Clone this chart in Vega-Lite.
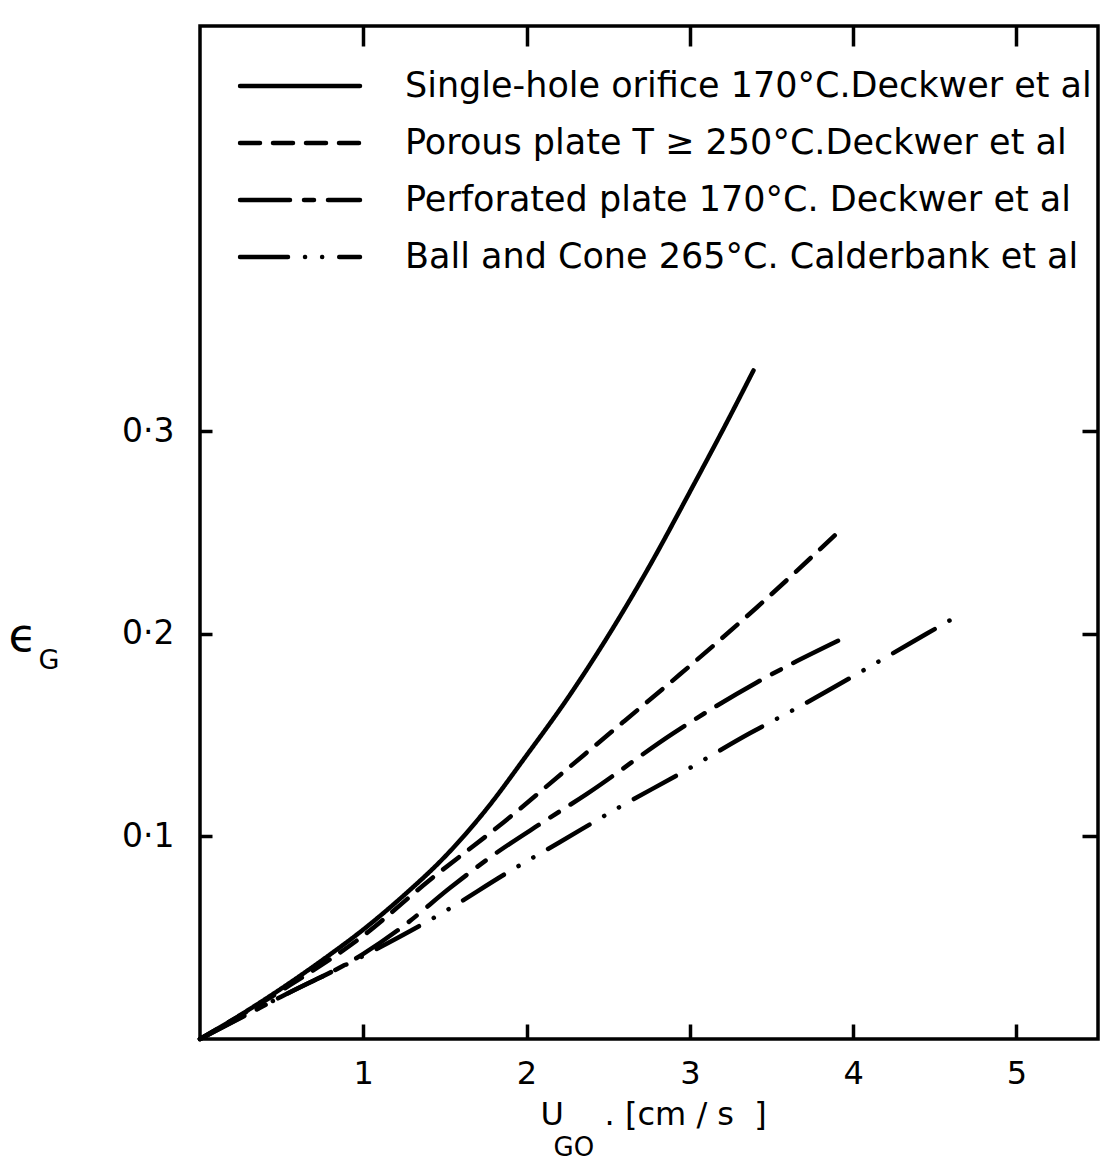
{
  "$schema": "https://vega.github.io/schema/vega-lite/v6.json",
  "width": 898,
  "height": 1013,
  "autosize": {"type": "none"},
  "padding": {"left": 200, "top": 26, "right": 2, "bottom": 121},
  "background": "white",
  "config": {
    "view": {"stroke": "black", "strokeWidth": 3.5},
    "font": "DejaVu Sans",
    "axis": {
      "domain": false,
      "grid": false,
      "tickColor": "black",
      "tickWidth": 3.5,
      "labelColor": "black",
      "titleColor": "black",
      "labelFont": "DejaVu Sans",
      "titleFont": "DejaVu Sans",
      "titleFontWeight": "normal"
    }
  },
  "data": {
    "values": [
      {"series": "Single-hole orifice 170°C.Deckwer et al", "u": 0, "eps": 0},
      {"series": "Single-hole orifice 170°C.Deckwer et al", "u": 0.25, "eps": 0.012},
      {"series": "Single-hole orifice 170°C.Deckwer et al", "u": 0.5, "eps": 0.025},
      {"series": "Single-hole orifice 170°C.Deckwer et al", "u": 0.75, "eps": 0.039},
      {"series": "Single-hole orifice 170°C.Deckwer et al", "u": 1.0, "eps": 0.054},
      {"series": "Single-hole orifice 170°C.Deckwer et al", "u": 1.25, "eps": 0.071},
      {"series": "Single-hole orifice 170°C.Deckwer et al", "u": 1.5, "eps": 0.09},
      {"series": "Single-hole orifice 170°C.Deckwer et al", "u": 1.75, "eps": 0.113},
      {"series": "Single-hole orifice 170°C.Deckwer et al", "u": 2.0, "eps": 0.14},
      {"series": "Single-hole orifice 170°C.Deckwer et al", "u": 2.25, "eps": 0.168},
      {"series": "Single-hole orifice 170°C.Deckwer et al", "u": 2.5, "eps": 0.199},
      {"series": "Single-hole orifice 170°C.Deckwer et al", "u": 2.75, "eps": 0.233},
      {"series": "Single-hole orifice 170°C.Deckwer et al", "u": 3.0, "eps": 0.27},
      {"series": "Single-hole orifice 170°C.Deckwer et al", "u": 3.25, "eps": 0.308},
      {"series": "Single-hole orifice 170°C.Deckwer et al", "u": 3.39, "eps": 0.33},
      {"series": "Porous plate T ≥ 250°C.Deckwer et al", "u": 0, "eps": 0},
      {"series": "Porous plate T ≥ 250°C.Deckwer et al", "u": 0.5, "eps": 0.024},
      {"series": "Porous plate T ≥ 250°C.Deckwer et al", "u": 1.0, "eps": 0.051},
      {"series": "Porous plate T ≥ 250°C.Deckwer et al", "u": 1.4, "eps": 0.078},
      {"series": "Porous plate T ≥ 250°C.Deckwer et al", "u": 1.86, "eps": 0.107},
      {"series": "Porous plate T ≥ 250°C.Deckwer et al", "u": 2.23, "eps": 0.132},
      {"series": "Porous plate T ≥ 250°C.Deckwer et al", "u": 2.6, "eps": 0.157},
      {"series": "Porous plate T ≥ 250°C.Deckwer et al", "u": 2.94, "eps": 0.18},
      {"series": "Porous plate T ≥ 250°C.Deckwer et al", "u": 3.41, "eps": 0.213},
      {"series": "Porous plate T ≥ 250°C.Deckwer et al", "u": 3.92, "eps": 0.251},
      {"series": "Perforated plate 170°C. Deckwer et al", "u": 0, "eps": 0},
      {"series": "Perforated plate 170°C. Deckwer et al", "u": 0.5, "eps": 0.021},
      {"series": "Perforated plate 170°C. Deckwer et al", "u": 1.0, "eps": 0.042},
      {"series": "Perforated plate 170°C. Deckwer et al", "u": 1.25, "eps": 0.056},
      {"series": "Perforated plate 170°C. Deckwer et al", "u": 1.53, "eps": 0.0745},
      {"series": "Perforated plate 170°C. Deckwer et al", "u": 1.8, "eps": 0.091},
      {"series": "Perforated plate 170°C. Deckwer et al", "u": 2.1, "eps": 0.107},
      {"series": "Perforated plate 170°C. Deckwer et al", "u": 2.37, "eps": 0.121},
      {"series": "Perforated plate 170°C. Deckwer et al", "u": 2.9, "eps": 0.151},
      {"series": "Perforated plate 170°C. Deckwer et al", "u": 3.41, "eps": 0.176},
      {"series": "Perforated plate 170°C. Deckwer et al", "u": 3.92, "eps": 0.197},
      {"series": "Ball and Cone  265°C. Calderbank et al", "u": 0, "eps": 0},
      {"series": "Ball and Cone  265°C. Calderbank et al", "u": 0.5, "eps": 0.021},
      {"series": "Ball and Cone  265°C. Calderbank et al", "u": 1.0, "eps": 0.041},
      {"series": "Ball and Cone  265°C. Calderbank et al", "u": 1.5, "eps": 0.063},
      {"series": "Ball and Cone  265°C. Calderbank et al", "u": 1.88, "eps": 0.082},
      {"series": "Ball and Cone  265°C. Calderbank et al", "u": 2.2, "eps": 0.097},
      {"series": "Ball and Cone  265°C. Calderbank et al", "u": 2.57, "eps": 0.1145},
      {"series": "Ball and Cone  265°C. Calderbank et al", "u": 2.94, "eps": 0.131},
      {"series": "Ball and Cone  265°C. Calderbank et al", "u": 3.37, "eps": 0.151},
      {"series": "Ball and Cone  265°C. Calderbank et al", "u": 3.67, "eps": 0.164},
      {"series": "Ball and Cone  265°C. Calderbank et al", "u": 4.15, "eps": 0.186},
      {"series": "Ball and Cone  265°C. Calderbank et al", "u": 4.45, "eps": 0.2},
      {"series": "Ball and Cone  265°C. Calderbank et al", "u": 4.6, "eps": 0.207}
    ]
  },
  "layer": [
    {
      "mark": {"type": "line", "color": "black", "strokeWidth": 4.5, "strokeCap": "round", "interpolate": "monotone"},
      "encoding": {
        "x": {
          "field": "u", "type": "quantitative",
          "scale": {"domain": [0, 5.5], "nice": false, "zero": false},
          "axis": {
            "orient": "bottom", "values": [1, 2, 3, 4, 5], "tickSize": -15, "labelPadding": 34,
            "labelFontSize": 32, "title": "U\u00a0\u00a0\u00a0\u00a0.\u00a0[cm\u00a0/\u00a0s\u00a0\u00a0]", "titleFontSize": 32,
            "titleX": 340, "titleY": 85, "titleAlign": "left", "titleBaseline": "alphabetic"
          }
        },
        "y": {
          "field": "eps", "type": "quantitative",
          "scale": {"domain": [0, 0.5], "nice": false, "zero": false},
          "axis": {
            "orient": "left", "values": [0.1, 0.2, 0.3], "tickSize": -12, "labelPadding": 38,
            "labelFontSize": 33, "labelExpr": "replace(format(datum.value, '.1f'), '.', '·')",
            "title": "ϵ", "titleAngle": 0, "titleFontSize": 46, "titleX": -192, "titleY": 624,
            "titleAlign": "left", "titleBaseline": "alphabetic"
          }
        },
        "strokeDash": {
          "field": "series", "type": "nominal",
          "scale": {
            "domain": [
              "Single-hole orifice 170°C.Deckwer et al",
              "Porous plate T ≥ 250°C.Deckwer et al",
              "Perforated plate 170°C. Deckwer et al",
              "Ball and Cone  265°C. Calderbank et al"
            ],
            "range": [[1, 0], [20, 13], [50, 14, 10, 14], [48, 17, 0.1, 17, 0.1, 17]]
          },
          "legend": {
            "title": null, "orient": "none", "legendX": 37.5, "legendY": 45, "padding": 0,
            "symbolType": "stroke", "symbolSize": 14400, "symbolStrokeWidth": 4.5,
            "symbolStrokeColor": "black", "symbolFillColor": "transparent",
            "clipHeight": 30, "rowPadding": 22, "labelOffset": 42.5, "labelFontSize": 35,
            "labelColor": "black", "labelLimit": 1000, "labelFont": "DejaVu Sans",
            "encode": {"symbols": {"update": {"strokeCap": {"value": "round"}}}}
          }
        }
      }
    },
    {
      "mark": {"type": "point", "opacity": 0},
      "encoding": {
        "x": {
          "field": "u", "type": "quantitative",
          "scale": {"domain": [0, 5.5], "nice": false, "zero": false},
          "axis": {
            "orient": "top", "values": [1, 2, 3, 4, 5], "tickSize": -20, "labels": false,
            "title": "GO", "titleFontSize": 26, "titleX": 353, "titleY": 1129,
            "titleAlign": "left", "titleBaseline": "alphabetic"
          }
        },
        "y": {
          "field": "eps", "type": "quantitative",
          "scale": {"domain": [0, 0.5], "nice": false, "zero": false},
          "axis": {
            "orient": "right", "values": [0.1, 0.2, 0.3], "tickSize": -16, "labels": false,
            "title": "G", "titleAngle": 0, "titleFontSize": 27, "titleX": -1060, "titleY": 642,
            "titleAlign": "left", "titleBaseline": "alphabetic"
          }
        }
      }
    }
  ],
  "resolve": {"axis": {"x": "independent", "y": "independent"}}
}
